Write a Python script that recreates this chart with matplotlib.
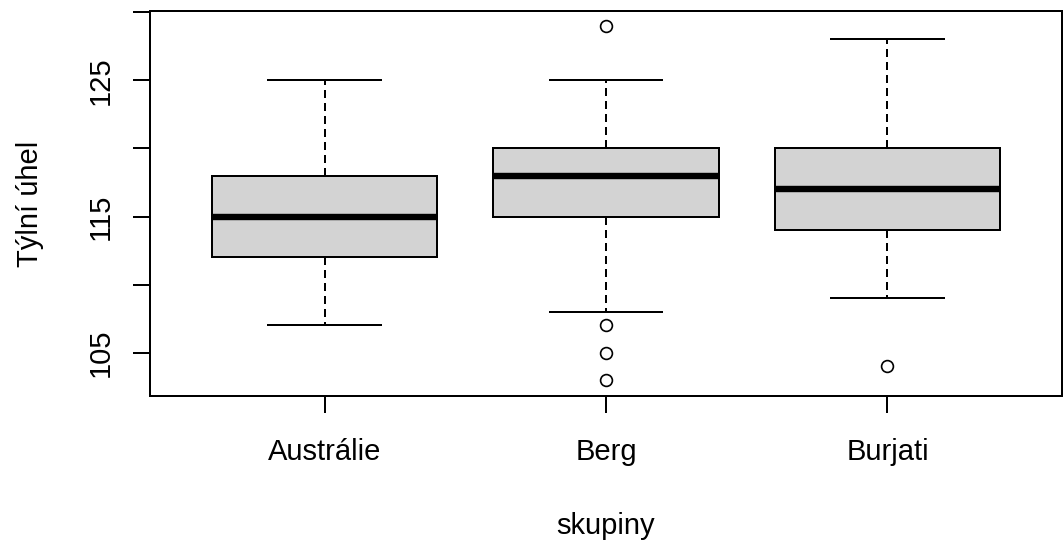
import matplotlib
matplotlib.use("Agg")
import matplotlib.pyplot as plt

plt.rcParams['font.family'] = ['Liberation Sans', 'DejaVu Sans']

groups = ["Austrálie", "Berg", "Burjati"]
whislo = [107, 108, 109]
q1 = [112, 115, 114]
med = [115, 118, 117]
q3 = [118, 120, 120]
whishi = [125, 125, 128]
fliers = [[], [129, 107, 105, 103], [104]]

yticks = [105, 110, 115, 120, 125, 130]
ylabels = ["105", "", "115", "", "125", ""]

stats = []
for i in range(len(groups)):
    stats.append({"label": groups[i], "whislo": whislo[i], "q1": q1[i], "med": med[i],
                  "q3": q3[i], "whishi": whishi[i], "fliers": fliers[i]})

fig = plt.figure(figsize=(10.63, 5.45), dpi=100)
ax = fig.add_axes([150 / 1063, 1 - 396 / 545, 912 / 1063, 385 / 545])

lw = 1.44
ax.bxp(stats, positions=[1, 2, 3], widths=0.8, capwidths=0.4, patch_artist=True,
       boxprops=dict(facecolor="#D3D3D3", edgecolor="black", linewidth=lw),
       medianprops=dict(color="black", linewidth=4.6, solid_capstyle="butt"),
       whiskerprops=dict(color="black", linewidth=lw, linestyle=(0, (4, 2.5))),
       capprops=dict(color="black", linewidth=lw),
       flierprops=dict(marker="o", markersize=8.5, markerfacecolor="none",
                       markeredgecolor="black", markeredgewidth=1.2))

ax.set_xlim(0.38, 3.62)
ax.set_ylim(101.82, 130.09)

for s in ax.spines.values():
    s.set_linewidth(lw)
    s.set_color("black")

ax.set_yticks(yticks)
ax.set_yticklabels(ylabels, rotation=90, va="center")
ax.set_xticks([1, 2, 3])
ax.set_xticklabels(groups)
ax.tick_params(axis="y", length=12.2, width=lw, pad=13, labelsize=21)
ax.tick_params(axis="x", length=12.2, width=lw, pad=18, labelsize=21)

ax.set_xlabel("skupiny", fontsize=21, labelpad=33)
ax.set_ylabel("Týlní úhel", fontsize=21, labelpad=31)

fig.savefig("out.png", dpi=100)
